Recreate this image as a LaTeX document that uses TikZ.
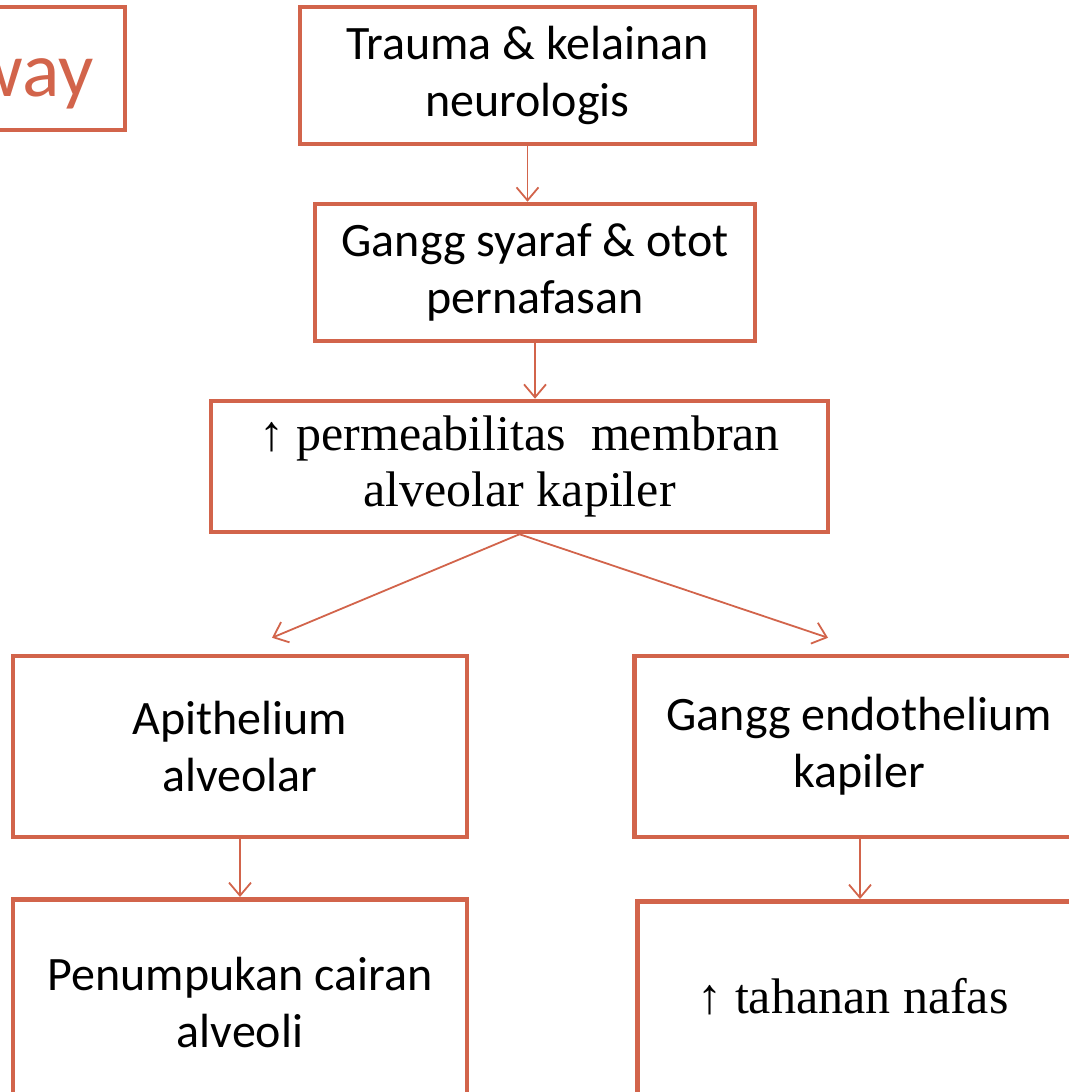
\documentclass[tikz,border=0pt]{standalone}
\usepackage{fontspec}
\setmainfont{Carlito}
\newfontfamily\serifA{Liberation Serif}
\usetikzlibrary{arrows.meta,calc}
\definecolor{boxc}{RGB}{210,100,75}
\tikzset{
  box/.style={draw=boxc, line width=4.5pt, fill=white, align=center, inner sep=0pt, font=\fontsize{48}{57}\selectfont},
  sertext/.style={font=\serifA\fontsize{50}{56}\selectfont},
  arr/.style={draw=boxc, line width=1.8pt, -{Straight Barb[length=13pt,width=22pt,line width=1.8pt]}},
}
\begin{document}
\begin{tikzpicture}[x=1pt,y=-1pt]
\useasboundingbox (0,0) rectangle (1068,1092);
\node[box, minimum width=455pt, minimum height=137pt] (b1) at (527.5,75.5) {Trauma \& kelainan\\neurologis};
\node[box, minimum width=440pt, minimum height=137pt] (b2) at (535,272.5) {Gangg syaraf \& otot\\pernafasan};
\node[box, minimum width=617pt, minimum height=131pt, sertext] (b3) at (519.5,466.5) {↑ permeabilitas\ \ membran\\alveolar kapiler};
\node[box, minimum width=454pt, minimum height=181pt] (b4) at (240,746.5) {Apithelium\\alveolar};
\node[box, minimum width=470pt, minimum height=181pt, anchor=west] (b5) at (632,746.5) {\hspace*{-20pt}Gangg endothelium\\\hspace*{-20pt}kapiler};
\node[box, minimum width=454pt, minimum height=240pt, anchor=north] (b6) at (240,897) {\raisebox{72pt}{\parbox{454pt}{\centering Penumpukan cairan\\alveoli}}};
\node[box, minimum width=470pt, minimum height=240pt, anchor=north west] (b7) at (635,899) {};
\node[sertext, anchor=base] (t7) at (853,1013) {↑ tahanan nafas};
\node[box, minimum width=260pt, minimum height=123pt, anchor=east] (w) at (127,68.5) {};
\node[font=\fontsize{78}{80}\selectfont, text=boxc, anchor=base east, inner sep=0pt] (wt) at (94,96) {way};
\draw[arr] (b1.south) -- (b2.north -| b1.south);
\draw[arr] (b2.south) -- (b2.south |- b3.north);
\draw[arr] (b3.south) -- ($(b4.north)+(32,-16)$);
\draw[arr] (b3.south) -- ($(b5.north west)+(196,-16)$);
\draw[arr] (b4.south) -- (b6.north);
\draw[arr] ($(b5.south west)+(228,0)$) -- ($(b7.north west)+(225,0)$);
\end{tikzpicture}
\end{document}
